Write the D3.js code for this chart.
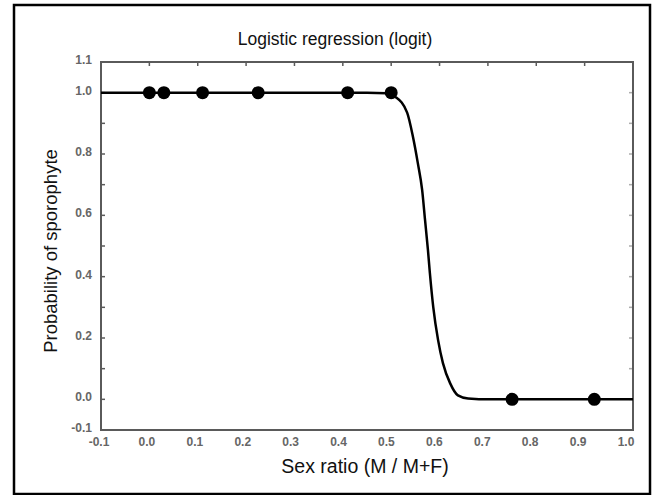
<!DOCTYPE html>
<html>
<head>
<meta charset="utf-8">
<script src="https://cdn.jsdelivr.net/npm/d3@7"></script>
<style>
  body { margin: 0; background: #fff; }
  svg { display: block; }
  text { font-family: "Liberation Sans", Arial, sans-serif; }
</style>
</head>
<body>
<svg id="chart"></svg>
<script>
// Données
const obsX = [0.0, 0.03, 0.11, 0.225, 0.41, 0.50, 0.75, 0.92];
const obsY = [1, 1, 1, 1, 1, 1, 0, 0];

// Courbe ajustée
const fitX = [-0.1, 0.30, 0.45, 0.49, 0.508, 0.533, 0.545, 0.555, 0.564, 0.570, 0.576, 0.580, 0.587, 0.597, 0.607, 0.622, 0.638, 0.659, 0.704, 0.85, 1.0];
const fitY = [1.0, 1.0, 1.0, 0.998, 0.987, 0.935, 0.856, 0.771, 0.683, 0.585, 0.487, 0.412, 0.301, 0.193, 0.118, 0.052, 0.013, 0.003, 0.0, 0.0, 0.0];

const xTicks = [-0.1, 0.0, 0.1, 0.2, 0.3, 0.4, 0.5, 0.6, 0.7, 0.8, 0.9, 1.0];
const yLabels = [1.1, 1.0, 0.8, 0.6, 0.4, 0.2, 0.0, -0.1];
const yTicks = [0.0, 0.1, 0.2, 0.3, 0.4, 0.5, 0.6, 0.7, 0.8, 0.9, 1.0];
const topTicks = [0.0, 0.1, 0.2, 0.3, 0.4, 0.5, 0.6, 0.7, 0.8, 0.9];

const width = 658, height = 495;
const plot = { left: 101, right: 633, top: 62, bottom: 430 };
const axisColor = "#5a5a5a";
const labelColor = "#666";

const svg = d3.select("#chart")
    .attr("width", width)
    .attr("height", height);

// Cadre extérieur
svg.append("rect")
    .attr("x", 14).attr("y", 5)
    .attr("width", 636).attr("height", 489)
    .attr("fill", "none")
    .attr("stroke", "#000")
    .attr("stroke-width", 2.5);

const x = d3.scaleLinear().domain([-0.1, 1.0]).range([plot.left, plot.right]);
const y = d3.scaleLinear().domain([-0.1, 1.1]).range([plot.bottom, plot.top]);
// les étiquettes de l'axe X sont légèrement resserrées sur l'original
const xLabel = d3.scaleLinear().domain([-0.1, 1.0]).range([99, 626]);

// Titre
svg.append("text")
    .attr("x", 335).attr("y", 45)
    .attr("text-anchor", "middle")
    .attr("font-size", 17.5)
    .attr("fill", "#111")
    .text("Logistic regression (logit)");

// Ticks intérieurs
const tickG = svg.append("g").attr("stroke", axisColor).attr("stroke-width", 1.5);
tickG.selectAll(".top-tick")
    .data(topTicks)
    .join("line")
    .attr("x1", d => x(d)).attr("x2", d => x(d))
    .attr("y1", plot.top).attr("y2", plot.top + 4);
tickG.selectAll(".left-tick")
    .data(yTicks)
    .join("line")
    .attr("x1", plot.left).attr("x2", plot.left + 4)
    .attr("y1", d => y(d)).attr("y2", d => y(d));
tickG.selectAll(".right-tick")
    .data(yTicks)
    .join("line")
    .attr("x1", plot.right).attr("x2", plot.right - 4)
    .attr("y1", d => y(d)).attr("y2", d => y(d))
    .attr("stroke-opacity", 0.5);

// Cadre du graphique
svg.append("rect")
    .attr("x", plot.left).attr("y", plot.top)
    .attr("width", plot.right - plot.left)
    .attr("height", plot.bottom - plot.top)
    .attr("fill", "none")
    .attr("stroke", axisColor)
    .attr("stroke-width", 2);

const fmt = d => d3.format(".1f")(d).replace("−", "-");

// Étiquettes de l'axe X
svg.append("g")
    .selectAll("text")
    .data(xTicks)
    .join("text")
    .attr("x", d => xLabel(d))
    .attr("y", 446)
    .attr("text-anchor", "middle")
    .attr("font-size", 12)
    .attr("font-weight", "bold")
    .attr("fill", labelColor)
    .text(fmt);

// Étiquettes de l'axe Y
svg.append("g")
    .selectAll("text")
    .data(yLabels)
    .join("text")
    .attr("x", 92)
    .attr("y", d => y(d) + 2)
    .attr("text-anchor", "end")
    .attr("font-size", 12)
    .attr("font-weight", "bold")
    .attr("fill", labelColor)
    .text(fmt);

// Titres des axes
svg.append("text")
    .attr("x", 365).attr("y", 473)
    .attr("text-anchor", "middle")
    .attr("font-size", 19.5)
    .attr("fill", "#111")
    .text("Sex ratio (M / M+F)");

svg.append("text")
    .attr("transform", "translate(57, 251) rotate(-90)")
    .attr("text-anchor", "middle")
    .attr("font-size", 18.5)
    .attr("fill", "#111")
    .text("Probability of sporophyte");

// Courbe logistique
const fitData = fitX.map((d, i) => ({ x: d, y: fitY[i] }));
const line = d3.line()
    .x(d => x(d.x))
    .y(d => y(d.y))
    .curve(d3.curveMonotoneX);

svg.append("path")
    .datum(fitData)
    .attr("d", line)
    .attr("fill", "none")
    .attr("stroke", "#000")
    .attr("stroke-width", 2.5);

// Points observés
svg.append("g")
    .selectAll("circle")
    .data(obsX.map((d, i) => ({ x: d, y: obsY[i] })))
    .join("circle")
    .attr("cx", d => x(d.x))
    .attr("cy", d => y(d.y))
    .attr("r", 6.5)
    .attr("fill", "#000");
</script>
</body>
</html>
